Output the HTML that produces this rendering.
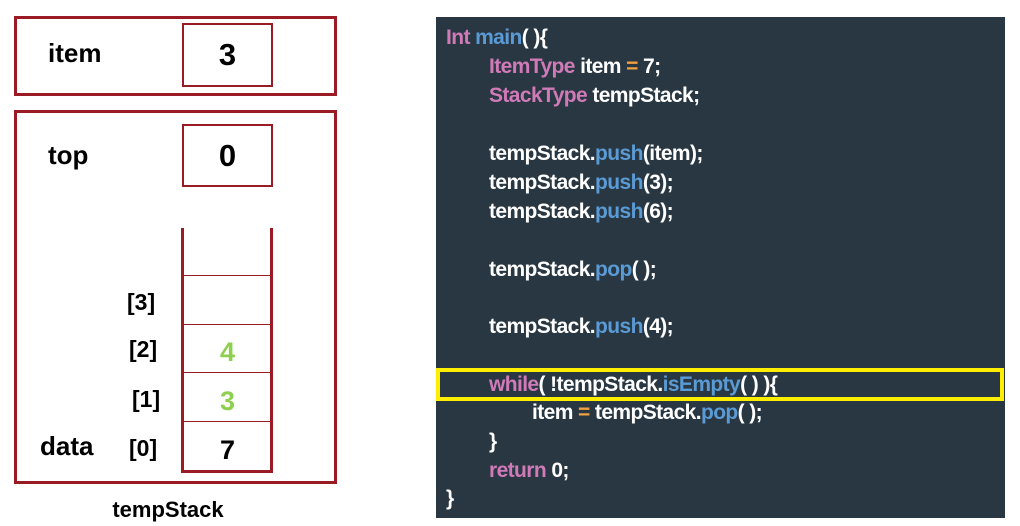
<!DOCTYPE html>
<html><head><meta charset="utf-8"><style>
body{margin:0;width:1020px;height:526px;background:#fff;position:relative;overflow:hidden;font-family:"Liberation Sans",sans-serif;font-weight:bold}
.a{position:absolute;box-sizing:border-box}
.r{border:3px solid #9b1b24}
.t{position:absolute;color:#000;white-space:nowrap}
.code{position:absolute;left:436px;top:17px;width:569px;height:501px;background:#283742}
.l{position:absolute;white-space:nowrap;color:#fff;font-size:21px;letter-spacing:-0.6px;line-height:29px}
.p{color:#d17ab8}.b{color:#5b9bd5}.o{color:#f0a040}
</style></head><body>
<div class="a r" style="left:14px;top:16px;width:323px;height:80px"></div>
<div class="a r" style="left:182px;top:23px;width:91px;height:64px;border-width:2px"></div>
<div class="t" style="left:48px;top:38px;font-size:26px">item</div>
<div class="t" style="left:182px;width:91px;text-align:center;top:37px;font-size:31px">3</div>

<div class="a r" style="left:14px;top:110px;width:323px;height:374px"></div>
<div class="a r" style="left:182px;top:124px;width:91px;height:63px;border-width:2px"></div>
<div class="t" style="left:48px;top:140px;font-size:26px">top</div>
<div class="t" style="left:182px;width:91px;text-align:center;top:138px;font-size:31px">0</div>

<div class="a" style="left:181px;top:228px;width:3px;height:245px;background:#9b1b24"></div>
<div class="a" style="left:270px;top:228px;width:3px;height:245px;background:#9b1b24"></div>
<div class="a" style="left:181px;top:470px;width:92px;height:3px;background:#9b1b24"></div>
<div class="a" style="left:183px;top:275px;width:88px;height:1px;background:#9b1b24"></div>
<div class="a" style="left:183px;top:324px;width:88px;height:1px;background:#9b1b24"></div>
<div class="a" style="left:183px;top:372px;width:88px;height:1px;background:#9b1b24"></div>
<div class="a" style="left:183px;top:421px;width:88px;height:1px;background:#9b1b24"></div>

<div class="t" style="left:127px;top:289px;font-size:23px">[3]</div>
<div class="t" style="left:129px;top:336px;font-size:23px">[2]</div>
<div class="t" style="left:132px;top:386px;font-size:23px">[1]</div>
<div class="t" style="left:129px;top:435px;font-size:23px">[0]</div>
<div class="t" style="left:40px;top:431px;font-size:26px">data</div>
<div class="t" style="left:182px;width:91px;text-align:center;top:337px;font-size:27px;color:#8fcf50">4</div>
<div class="t" style="left:182px;width:91px;text-align:center;top:386px;font-size:27px;color:#8fcf50">3</div>
<div class="t" style="left:182px;width:91px;text-align:center;top:435px;font-size:27px">7</div>
<div class="t" style="left:0;width:336px;text-align:center;top:497px;font-size:22px">tempStack</div>

<div class="code">
<div class="l" style="left:10px;top:6px"><span class="p">Int</span> <span class="b">main</span>( ){</div>
<div class="l" style="left:53px;top:35px"><span class="p">ItemType</span> item <span class="o">=</span> 7;</div>
<div class="l" style="left:53px;top:64px"><span class="p">StackType</span> tempStack;</div>
<div class="l" style="left:53px;top:122px">tempStack.<span class="b">push</span>(item);</div>
<div class="l" style="left:53px;top:151px">tempStack.<span class="b">push</span>(3);</div>
<div class="l" style="left:53px;top:180px">tempStack.<span class="b">push</span>(6);</div>
<div class="l" style="left:53px;top:238px">tempStack.<span class="b">pop</span>( );</div>
<div class="l" style="left:53px;top:295px">tempStack.<span class="b">push</span>(4);</div>
<div class="l" style="left:53px;top:353px"><span class="p">while</span>( !tempStack.<span class="b">isEmpty</span>( ) ){</div>
<div class="l" style="left:96px;top:381px">item <span class="o">=</span> tempStack.<span class="b">pop</span>( );</div>
<div class="l" style="left:53px;top:410px">}</div>
<div class="l" style="left:53px;top:439px"><span class="p">return</span> 0;</div>
<div class="l" style="left:10px;top:467px">}</div>
</div>
<div class="a" style="left:436px;top:368px;width:568px;height:33px;border:4px solid #ffee00"></div>
</body></html>
